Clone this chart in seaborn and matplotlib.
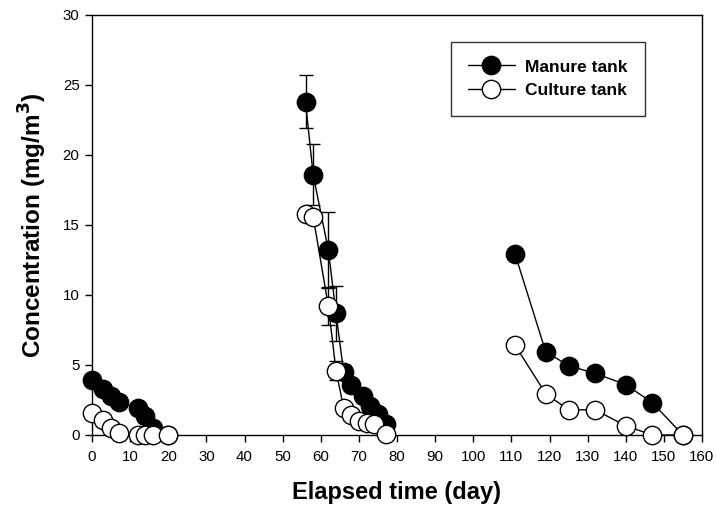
import matplotlib
matplotlib.use("Agg")
import matplotlib.pyplot as plt
import seaborn as sns
import pandas as pd
from matplotlib.lines import Line2D

# ---- data ----
days_g1 = [0, 3, 5, 7, 12, 14, 16, 20]
manure_g1 = [3.9, 3.3, 2.8, 2.35, 1.95, 1.35, 0.5, 0.0]
culture_g1 = [1.55, 1.1, 0.5, 0.12, 0.0, 0.0, 0.0, 0.0]

days_g2_manure = [56, 58, 62, 64, 66, 68, 71, 73, 75, 77]
manure_g2 = [23.8, 18.6, 13.2, 8.7, 4.5, 3.6, 2.8, 2.1, 1.5, 0.8]
manure_g2_err = [1.9, 2.2, 2.7, 1.95, 0.5, 0.3, 0.3, 0.3, 0.3, 0.2]
days_g2_culture = [56, 58, 62, 64, 66, 68, 70, 72, 74, 77]
culture_g2 = [15.8, 15.6, 9.2, 4.6, 1.95, 1.4, 1.0, 0.85, 0.8, 0.05]
culture_g2_err = [0.2, 0.3, 1.35, 0.7, 0.2, 0.1, 0.1, 0.1, 0.1, 0.05]

days_g3 = [111, 119, 125, 132, 140, 147, 155]
manure_g3 = [12.9, 5.95, 4.95, 4.4, 3.6, 2.3, 0.0]
culture_g3 = [6.4, 2.95, 1.8, 1.8, 0.65, 0.0, 0.0]

x_ticks = list(range(0, 161, 10))
y_ticks = list(range(0, 31, 5))
series_names = ["Manure tank", "Culture tank"]

# ---- build tables ----
def make_df(days_list, vals_list, name):
    rows = []
    for gi, (d, v) in enumerate(zip(days_list, vals_list)):
        for dd, vv in zip(d, v):
            rows.append({"day": dd, "conc": vv, "group": gi, "tank": name})
    return pd.DataFrame(rows)

df_m = make_df([days_g1, days_g2_manure, days_g3], [manure_g1, manure_g2, manure_g3], series_names[0])
df_c = make_df([days_g1, days_g2_culture, days_g3], [culture_g1, culture_g2, culture_g3], series_names[1])

sns.set_style("ticks")
plt.rcParams["font.family"] = ["Liberation Sans", "DejaVu Sans"]
for k in ["text.color", "axes.labelcolor", "xtick.color", "ytick.color", "axes.edgecolor"]:
    plt.rcParams[k] = "black"

fig = plt.figure(figsize=(7.16, 5.15), dpi=100)
ax = fig.add_axes([92 / 716, 1 - 435 / 515, (702 - 92) / 716, (435 - 15) / 515])

ms = 13.2
# error bars (middle group)
ax.errorbar(days_g2_manure, manure_g2, yerr=manure_g2_err, fmt="none", ecolor="black",
            elinewidth=1, capsize=5, capthick=1, zorder=2)
ax.errorbar(days_g2_culture, culture_g2, yerr=culture_g2_err, fmt="none", ecolor="black",
            elinewidth=1, capsize=5, capthick=1, zorder=4)

sns.lineplot(data=df_m, x="day", y="conc", units="group", estimator=None, ax=ax,
             color="black", lw=1, marker="o", markersize=ms, markerfacecolor="black",
             markeredgecolor="black", markeredgewidth=1, zorder=3, legend=False,
             clip_on=False)
sns.lineplot(data=df_c, x="day", y="conc", units="group", estimator=None, ax=ax,
             color="black", lw=1, marker="o", markersize=ms, markerfacecolor="white",
             markeredgecolor="black", markeredgewidth=1, zorder=5, legend=False,
             clip_on=False)

ax.set_xlim(0, 160)
ax.set_ylim(0, 30)
ax.set_xticks(x_ticks)
ax.set_yticks(y_ticks)
ax.tick_params(axis="both", direction="out", length=5, width=1, labelsize=10.8,
               colors="black", pad=4)
ax.tick_params(axis="x", pad=6)
for s in ax.spines.values():
    s.set_visible(True)
    s.set_linewidth(1)
    s.set_color("black")
    s.set_zorder(1)

ax.set_xlabel("Elapsed time (day)", fontsize=17, fontweight="bold", labelpad=12, color="black")
ax.set_ylabel("Concentration (mg/m$^\\mathbf{3}$)", fontsize=17.5, fontweight="bold",
              labelpad=10, color="black")

handles = [
    Line2D([0], [0], color="black", lw=1, marker="o", markersize=ms,
           markerfacecolor="black", markeredgecolor="black"),
    Line2D([0], [0], color="black", lw=1, marker="o", markersize=ms,
           markerfacecolor="white", markeredgecolor="black"),
]
leg = ax.legend(handles, series_names, loc="upper right", bbox_to_anchor=(0.9066, 0.9357),
                frameon=True, fancybox=False, edgecolor="black", handlelength=2.7,
                prop={"weight": "bold", "size": 12.5}, borderpad=1.0, labelspacing=0.5,
                handletextpad=0.6, borderaxespad=0)
leg.get_frame().set_linewidth(1)
for t in leg.get_texts():
    t.set_color("black")

fig.savefig("out.png", dpi=100)
